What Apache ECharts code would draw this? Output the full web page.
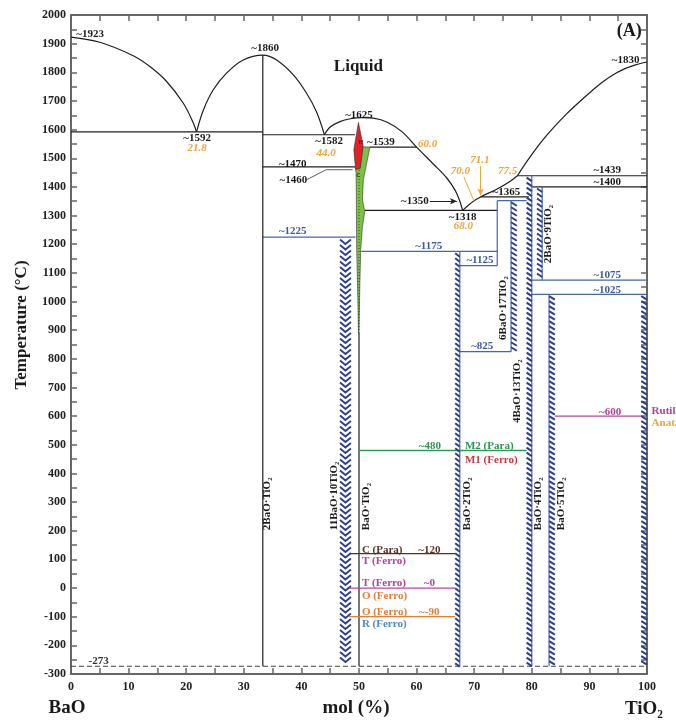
<!DOCTYPE html>
<html><head><meta charset="utf-8">
<script src="https://cdn.jsdelivr.net/npm/echarts@6/dist/echarts.min.js"></script>
<style>html,body{margin:0;padding:0;background:#fff}#c{width:676px;height:720px}</style>
</head><body><div id="c"></div><script>
// ---------- DATA ----------
const xTickInterval = 10;
const yTickInterval = 100;
const liquidusBaO = [[0,1923],[5,1905],[10.8,1858],[13.7,1820],[16.6,1768],[19.5,1692],[21.2,1625],[21.8,1592]];
const liquidus2BT = [[21.8,1592],[23.0,1669],[24.7,1739],[27.0,1797],[29.9,1843],[33.3,1860],[35.7,1843],[38.6,1791],[40.9,1727],[42.6,1663],[44.0,1582]];
const liquidusBT = [[44.0,1582],[45.0,1609],[46.7,1628],[48.5,1638],[50.5,1642],[52.5,1640],[55.0,1625],[57.5,1592],[60.0,1539],[62.9,1480],[65.2,1432],[66.7,1388],[67.5,1350],[68.0,1318]];
const liquidusTiO2a = [[68.0,1318],[69.8,1349],[71.1,1365],[73.9,1392],[76.2,1419],[77.5,1439]];
const liquidusTiO2b = [[77.5,1439],[79,1485],[80.5,1527],[82,1566],[84,1612],[86,1654],[88,1692],[90,1728],[92,1762],[94,1790],[96,1811],[98,1826],[100,1836]];
// horizontal invariant lines [x0, x1, T]
const blackTies = [[0,33.3,1592],[33.3,49.3,1582],[33.3,49.4,1470],[51.9,60.0,1539],[51.0,74.0,1318],[71.1,79.5,1365],[77.5,100,1439],[80.0,100,1400]];
const blueTies = [[33.3,49.4,1225],[50.4,74.0,1175],[67.5,74.0,1125],[67.5,76.4,825],[80.0,100,1075],[80.0,100,1025],[74.0,79.1,1352]];
// vertical lines [x, Tbottom, Ttop]
const blackVerticals = [[33.3,-273,1860],[50.0,-273,890]];
const blueVerticals = [[67.5,-273,1175],[74.0,1125,1352],[76.4,825,1352],[80.0,-273,1439],[81.8,1075,1400],[83.0,-273,1025]];
// hatched compound columns [xLeft, xRight, Tbottom, Ttop]
const hatchCols = [[66.7,67.5,-273,1172],[76.4,77.4,825,1350],[79.1,80.0,-273,1436],[80.9,81.8,1078,1398],[83.0,84.0,-273,1022],[99.0,100,-273,1022]];
const chevronCols = [[46.7,48.6,-273,1220]];
// polymorphic transitions [x0, x1, T]
const transitionLines = [[50.0,79.1,480],[84.0,99.0,600],[48.3,66.7,120],[48.3,66.7,0],[48.3,66.7,-100]];
const absZero = [[0,-273],[100,-273]];
const bt_dotted = [[50,890],[50,1460]];
const leader1460 = [[40.9,1425],[44.3,1460],[48.9,1460]];
const hexPhase = [[49.9,1625],[50.7,1545],[50.2,1465],[49.4,1462],[49.1,1530]];
const cubicPhase = [[50.7,1540],[51.9,1539],[50.75,1425],[50.6,1355],[51.0,1314],[50.6,1262],[50.3,1181],[50.15,1065],[50.0,891],[49.9,891],[49.8,1006],[49.6,1181],[49.5,1448],[49.4,1462],[50.2,1465]];
// arrows [[x0,T0],[x1,T1]]
const arrows = [[[62.3,1350],[67.0,1350]],[[71.1,1472],[71.1,1370]]];
const leader70 = [[68.2,1435],[70.0,1349]];
// text labels [x, T, text, kind, align, vertical]
const labels = [
 [0.9,1932,'~1923','k','left'],[33.7,1883,'~1860','k'],[21.9,1571,'~1592','k'],[44.8,1561,'~1582','k'],
 [50.0,1650,'~1625','k'],[53.8,1557,'~1539','k'],[38.5,1481,'~1470','k'],[38.6,1422,'~1460','k'],
 [59.7,1349,'~1350','k'],[68.0,1296,'~1318','k'],[75.6,1381,'~1365','k'],[93.1,1460,'~1439','k'],
 [93.1,1415,'~1400','k'],[96.3,1841,'~1830','k'],[4.8,-255,'-273','g'],
 [21.9,1536,'21.8','o'],[44.3,1519,'44.0','o'],[61.9,1550,'60.0','o'],[68.1,1262,'68.0','o'],
 [67.6,1454,'70.0','o'],[71.0,1495,'71.1','o'],[75.8,1454,'77.5','o'],
 [38.5,1245,'~1225','b'],[62.1,1192,'~1175','b'],[71.0,1143,'~1125','b'],[71.4,843,'~825','b'],
 [93.1,1093,'~1075','b'],[93.1,1041,'~1025','b'],
 [49.9,1820,'Liquid','big'],[96.9,1942,'(A)','A'],
 [62.3,495,'~480','gr'],[68.4,495,'M2 (Para)','gr','left'],[68.4,445,'M1 (Ferro)','rd','left'],
 [93.6,613,'~600','mg'],[100.8,617,'Rutile','mg','left'],[100.8,574,'Anatase','au','left'],
 [50.5,132,'C (Para)','br','left'],[62.2,132,'~120','br'],[50.5,93,'T (Ferro)','mg','left'],
 [50.5,16,'T (Ferro)','mg','left'],[62.2,16,'~0','mg'],[50.5,-29,'O (Ferro)','or','left'],
 [50.5,-84,'O (Ferro)','or','left'],[62.2,-84,'~-90','or'],[50.5,-127,'R (Ferro)','lb','left'],
 [50.3,1555,'H','tiny'],[49.9,1440,'C','tiny'],
 [34.0,202,'2BaO·TiO₂','v','left',1],[45.7,202,'11BaO·10TiO₂','v','left',1],[51.2,202,'BaO·TiO₂','v','left',1],
 [68.7,202,'BaO·2TiO₂','v','left',1],[75.1,866,'6BaO·17TiO₂','v','left',1],[77.4,576,'4BaO·13TiO₂','v','left',1],
 [81.1,202,'BaO·4TiO₂','v','left',1],[85.1,202,'BaO·5TiO₂','v','left',1],[82.8,1134,'2BaO·9TiO₂','v','left',1]
];

// ---------- STYLE ----------
const SERIF = '"Liberation Serif","Times New Roman",serif';
const C = {black:'#1e1e1e', blue:'#4564b4', hatch:'#2b3d94', red:'#e2202a', green:'#7cc242'};
const S = {
 k:{fill:'#1a1a1a', font:'bold 11px '+SERIF}, g:{fill:'#333', font:'bold 11px '+SERIF},
 o:{fill:'#f2a33a', font:'italic bold 11px '+SERIF}, b:{fill:'#3d58a8', font:'bold 11px '+SERIF},
 big:{fill:'#1a1a1a', font:'bold 17px '+SERIF}, A:{fill:'#1a1a1a', font:'bold 18px '+SERIF},
 gr:{fill:'#2e9255', font:'bold 11px '+SERIF}, rd:{fill:'#d6333a', font:'bold 11px '+SERIF},
 mg:{fill:'#b2409e', font:'bold 11px '+SERIF}, au:{fill:'#e3ad3a', font:'bold 11px '+SERIF},
 br:{fill:'#5b3428', font:'bold 11px '+SERIF}, or:{fill:'#f07a32', font:'bold 11px '+SERIF},
 lb:{fill:'#4a8cc4', font:'bold 11px '+SERIF}, tiny:{fill:'#333', font:'bold 6px '+SERIF},
 v:{fill:'#1a1a1a', font:'bold 11px '+SERIF}
};
const transitionColors = ['#2e9a55','#b8409e','#5b2e22','#c040a8','#f07a32'];

const series = [];
function seg(data, color, width, type){
  series.push({type:'line', data, symbol:'none', silent:true, z:3,
    lineStyle:{color, width, type:type||'solid'}});
}
function curve(data){
  series.push({type:'line', data, symbol:'none', smooth:0.35, silent:true, z:3,
    lineStyle:{color:C.black, width:1.2}});
}
[liquidusBaO, liquidus2BT, liquidusBT, liquidusTiO2a, liquidusTiO2b].forEach(curve);
blackTies.forEach(t=>seg([[t[0],t[2]],[t[1],t[2]]], C.black, 1.2));
blueTies.forEach(t=>seg([[t[0],t[2]],[t[1],t[2]]], C.blue, 1.2));
blackVerticals.forEach(v=>seg([[v[0],v[1]],[v[0],v[2]]], C.black, 1.2));
blueVerticals.forEach(v=>seg([[v[0],v[1]],[v[0],v[2]]], C.blue, 1.2));
transitionLines.forEach((t,i)=>seg([[t[0],t[2]],[t[1],t[2]]], transitionColors[i], 1.3));
seg(absZero, '#444', 1.2, [5,3]);
seg(leader1460, '#333', 0.8);
seg(leader70, '#f2a33a', 1);

// arrows
series.push({type:'line', data:[], silent:true, z:3,
  markLine:{silent:true, symbol:['none','arrow'], symbolSize:[5,7], label:{show:false}, animation:false,
    data: arrows.map((a,i)=>[{coord:a[0], lineStyle:{color:i?'#f2a33a':'#222', width:1, type:'solid'}},{coord:a[1]}])}});

// hatched columns
series.push({type:'custom', silent:true, z:4, data: hatchCols,
  renderItem:function(params, api){
    const p0 = api.coord([api.value(0), api.value(3)]);
    const p1 = api.coord([api.value(1), api.value(2)]);
    const ch = [];
    for (let y = p0[1]+1; y < p1[1]-3; y += 5) {
      ch.push({type:'line', shape:{x1:p0[0], y1:y, x2:p1[0], y2:y+3.5}, style:{stroke:C.hatch, lineWidth:2}});
    }
    return {type:'group', children:ch};
  }});
series.push({type:'custom', silent:true, z:4, data: chevronCols,
  renderItem:function(params, api){
    const p0 = api.coord([api.value(0), api.value(3)]);
    const p1 = api.coord([api.value(1), api.value(2)]);
    const xm = (p0[0]+p1[0])/2, ch = [];
    for (let y = p0[1]+1; y < p1[1]-5; y += 5.5) {
      ch.push({type:'polyline', shape:{points:[[p0[0],y],[xm,y+4.5],[p1[0],y]]}, style:{stroke:C.hatch, lineWidth:1.8, fill:null}});
    }
    return {type:'group', children:ch};
  }});
// phase regions
function poly(points, fill){
  series.push({type:'custom', silent:true, z:5, data:[[50,1000]],
    renderItem:function(params, api){
      return {type:'polygon', shape:{points: points.map(p=>api.coord(p))}, style:{fill, stroke:'#333', lineWidth:0.6}};
    }});
}
poly(cubicPhase, C.green);
poly(hexPhase, C.red);
series.push({type:'line', data:bt_dotted, symbol:'none', silent:true, z:6, lineStyle:{color:'#222', width:0.8, type:[1,2]}});
// labels
series.push({type:'custom', silent:true, z:10, data: labels.map(l=>[l[0],l[1]]),
  renderItem:function(params, api){
    const d = labels[params.dataIndex];
    const p = api.coord([d[0], d[1]]);
    const st = S[d[3]];
    return {type:'text', x:p[0], y:p[1], rotation: d[5]?Math.PI/2:0,
      style:{text:d[2], fill:st.fill, font:st.font, align:d[4]||'center', verticalAlign:'middle'}};
  }});

const axisCommon = {
  type:'value', axisLine:{show:true, onZero:false, lineStyle:{color:'#666', width:2}},
  axisTick:{show:true, inside:true, length:6, lineStyle:{color:'#666', width:1.5}},
  minorTick:{show:true, splitNumber:2, length:6, lineStyle:{color:'#666', width:1.5}},
  splitLine:{show:false}, minorSplitLine:{show:false}
};
const labelStyle = {color:'#222', fontFamily:SERIF, fontWeight:'bold', fontSize:12, formatter:v=>String(v)};
const option = {
  animation:false, backgroundColor:'#fff',
  grid:{left:71, right:29, top:15, bottom:46, containLabel:false},
  xAxis:[
    Object.assign({}, axisCommon, {min:0, max:100, interval:xTickInterval, position:'bottom', axisLabel:Object.assign({margin:7}, labelStyle)}),
    Object.assign({}, axisCommon, {min:0, max:100, interval:xTickInterval, position:'top', axisLabel:{show:false}})
  ],
  yAxis:[
    Object.assign({}, axisCommon, {min:-300, max:2000, interval:yTickInterval, position:'left', axisLabel:Object.assign({margin:5}, labelStyle)}),
    Object.assign({}, axisCommon, {min:-300, max:2000, interval:yTickInterval, position:'right', axisLabel:{show:false}})
  ],
  graphic:[
    {type:'text', x:67, y:708, style:{text:'BaO', font:'bold 19px '+SERIF, fill:'#1a1a1a', align:'center', verticalAlign:'middle'}},
    {type:'text', x:356, y:708, style:{text:'mol (%)', font:'bold 19px '+SERIF, fill:'#1a1a1a', align:'center', verticalAlign:'middle'}},
    {type:'text', x:644, y:709, style:{text:'TiO₂', font:'bold 19px '+SERIF, fill:'#1a1a1a', align:'center', verticalAlign:'middle'}},
    {type:'text', x:22, y:325, rotation:Math.PI/2, style:{text:'Temperature (°C)', font:'bold 17px '+SERIF, fill:'#1a1a1a', align:'center', verticalAlign:'middle'}}
  ],
  series
};
const chart = echarts.init(document.getElementById('c'), null, {renderer:'canvas'});
chart.setOption(option);
</script></body></html>
